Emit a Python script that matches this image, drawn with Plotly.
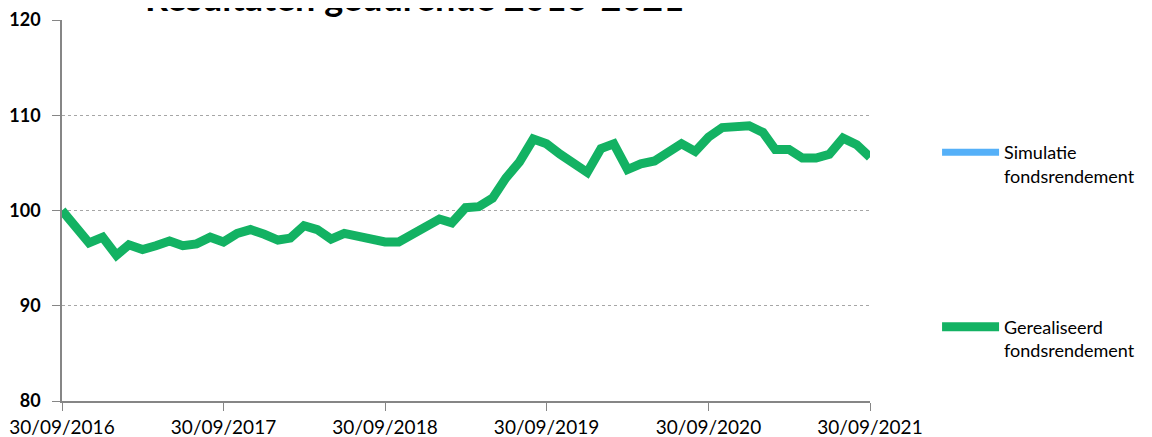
import plotly.graph_objects as go
import pandas as pd

dates = pd.date_range("2016-09-30", "2021-09-30", freq="ME")
realised = [100.0, 98.2, 96.6, 97.2, 95.3, 96.4, 95.9, 96.3, 96.8, 96.3,
            96.5, 97.2, 96.7, 97.6, 98.0, 97.5, 96.9, 97.1, 98.4, 98.0,
            97.0, 97.6, 97.3, 96.9, 96.7, 96.7, 97.4, 98.2, 99.1, 98.7,
            100.3, 100.4, 101.3, 103.4, 105.1, 107.5, 107.0, 105.9, 105.0, 104.0,
            106.5, 107.0, 104.3, 104.9, 105.2, 106.1, 107.0, 106.2, 107.7, 108.7,
            108.8, 108.9, 108.2, 106.4, 106.4, 105.5, 105.5, 105.9, 107.6, 106.9,
            105.6]
simulation = [None] * len(realised)
tick_dates = ["2016-09-30", "2017-09-30", "2018-09-30", "2019-09-30", "2020-09-30", "2021-09-30"]
tick_labels = ["30/09/2016", "30/09/2017", "30/09/2018", "30/09/2019", "30/09/2020", "30/09/2021"]
y_ticks = [80, 90, 100, 110, 120]
title_text = "Resultaten gedurende 2016-2021"

fig = go.Figure()
fig.add_trace(go.Scatter(x=list(dates), y=simulation, mode="lines",
                         name="Simulatie<br>fondsrendement", showlegend=True,
                         line=dict(color="#55B0F8", width=7), legend="legend"))
fig.add_trace(go.Scatter(x=list(dates), y=realised, mode="lines",
                         name="Gerealiseerd<br>fondsrendement", showlegend=True,
                         line=dict(color="#13B263", width=9), legend="legend2"))

fig.update_layout(
    width=1144, height=429,
    margin=dict(l=54, r=282, t=12, b=36, autoexpand=False),
    paper_bgcolor="white", plot_bgcolor="white",
    font=dict(family="Lato", size=18, color="black"),
    legend=dict(x=1.083, y=0.622, xanchor="left", yanchor="middle",
                valign="top", font=dict(size=18), itemwidth=57,
                bgcolor="rgba(0,0,0,0)"),
    legend2=dict(x=1.083, y=0.164, xanchor="left", yanchor="middle",
                 valign="top", font=dict(size=18), itemwidth=57,
                 bgcolor="rgba(0,0,0,0)"),
    annotations=[dict(text="<b>" + title_text + "</b>", xref="paper", yref="paper",
                      x=0.1, y=0.997, xanchor="left", yanchor="bottom",
                      showarrow=False, font=dict(size=36, family="Lato", color="black"))],
)
fig.update_xaxes(type="date", range=["2016-09-30", "2021-09-30"],
                 tickvals=tick_dates, ticktext=tick_labels, automargin=False,
                 showline=True, linecolor="#868686", linewidth=1.5,
                 ticks="outside", ticklen=8, tickcolor="#868686",
                 showgrid=False, zeroline=False, tickfont=dict(size=19))
fig.update_yaxes(range=[80, 120], tickvals=y_ticks, automargin=False,
                 showline=True, linecolor="#868686", linewidth=1.5,
                 ticks="outside", ticklen=8, tickcolor="#868686",
                 showgrid=True, gridcolor="#A6A6A6", griddash="dot", gridwidth=1,
                 zeroline=False, tickfont=dict(size=18, weight="bold"),
                 ticklabelstandoff=8)

fig.write_html("out.html")
